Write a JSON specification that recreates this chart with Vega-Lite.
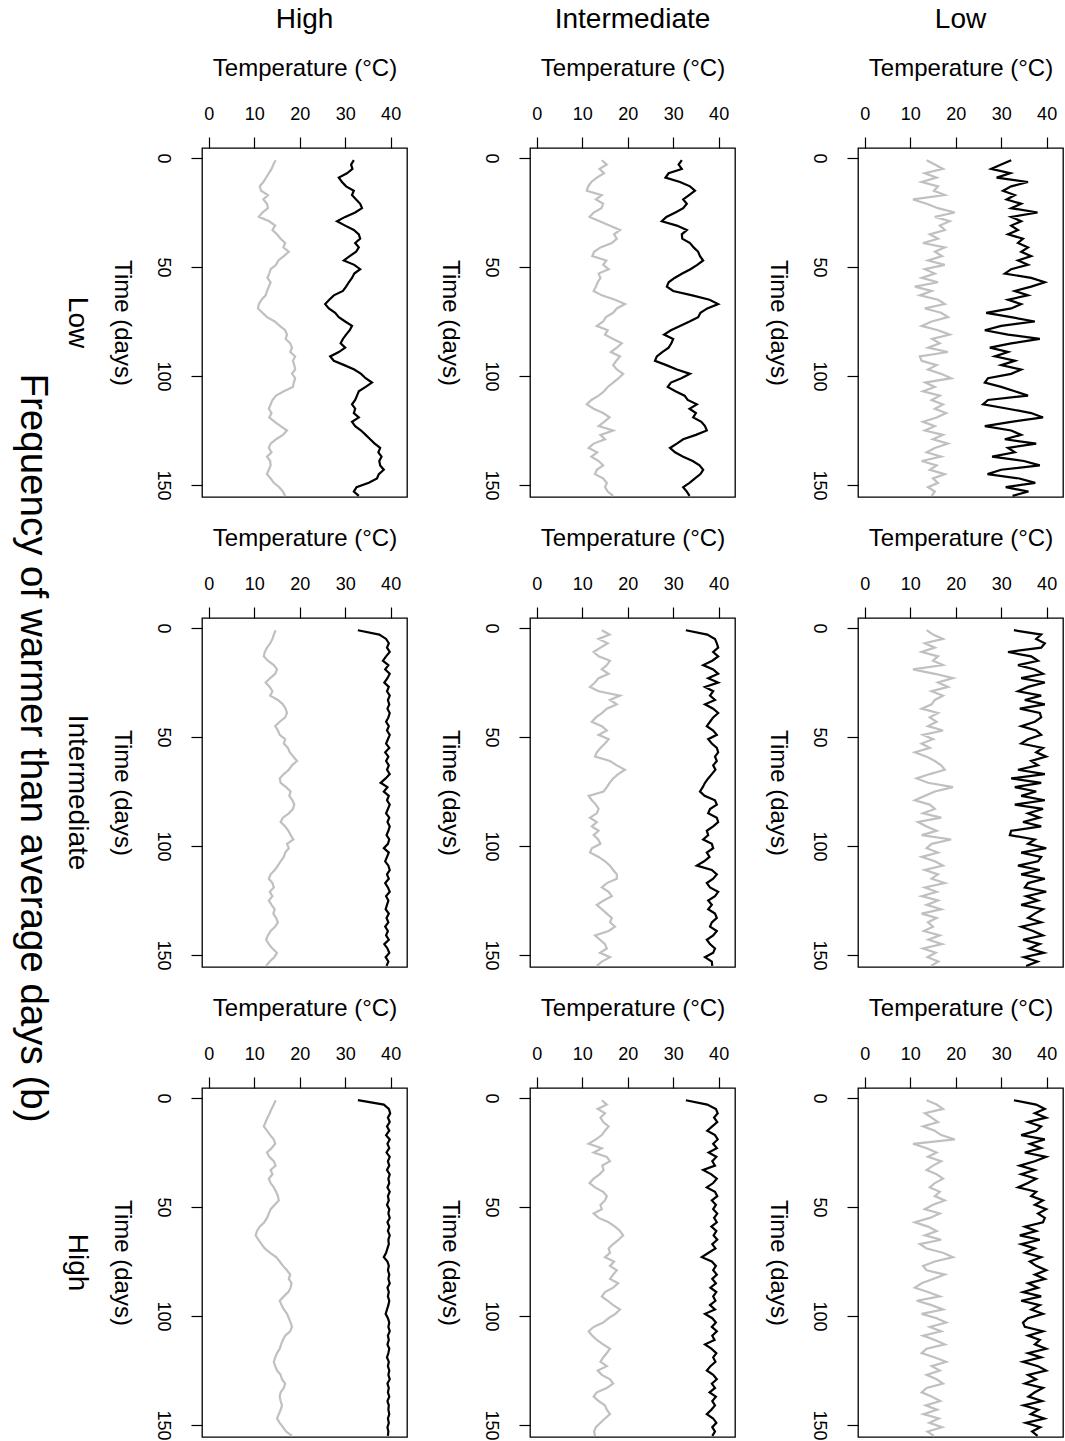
{
"$schema":"https://vega.github.io/schema/vega-lite/v6.json",
"background":"white",
"padding":{"left":12,"top":6,"right":1,"bottom":3},
"config":{
"font":"Liberation Sans",
"view":{"stroke":"#000","strokeWidth":1.3},
"axis":{"domain":false,"grid":false,"tickColor":"#000","tickWidth":1.2,"labelColor":"#000","titleColor":"#000","titleFontWeight":"normal","labelFont":"Liberation Sans","titleFont":"Liberation Sans"},
"header":{"labelColor":"#000","titleColor":"#000","labelFont":"Liberation Sans","titleFont":"Liberation Sans"}
},
"data":{"values":[
{"c":"H","r":"L","t":1,"g":14.7,"k":31.9},{"c":"H","r":"L","t":3,"g":14.2,"k":31.3},{"c":"H","r":"L","t":5,"g":13.8,"k":31.6},{"c":"H","r":"L","t":7,"g":13.2,"k":30.4},{"c":"H","r":"L","t":9,"g":12.6,"k":28.6},{"c":"H","r":"L","t":11,"g":12.0,"k":29.3},{"c":"H","r":"L","t":13,"g":11.2,"k":30.2},{"c":"H","r":"L","t":15,"g":11.5,"k":31.9},{"c":"H","r":"L","t":17,"g":13.0,"k":31.5},{"c":"H","r":"L","t":19,"g":12.0,"k":32.4},
{"c":"H","r":"L","t":21,"g":12.8,"k":33.3},{"c":"H","r":"L","t":23,"g":13.0,"k":33.7},{"c":"H","r":"L","t":25,"g":11.8,"k":32.2},{"c":"H","r":"L","t":27,"g":11.0,"k":30.0},{"c":"H","r":"L","t":29,"g":13.3,"k":28.2},{"c":"H","r":"L","t":31,"g":14.6,"k":30.0},{"c":"H","r":"L","t":33,"g":14.0,"k":31.9},{"c":"H","r":"L","t":35,"g":15.0,"k":33.0},{"c":"H","r":"L","t":37,"g":15.8,"k":33.3},{"c":"H","r":"L","t":39,"g":16.8,"k":32.2},
{"c":"H","r":"L","t":41,"g":16.4,"k":33.0},{"c":"H","r":"L","t":43,"g":17.6,"k":32.4},{"c":"H","r":"L","t":45,"g":16.5,"k":31.0},{"c":"H","r":"L","t":47,"g":15.3,"k":29.7},{"c":"H","r":"L","t":49,"g":14.8,"k":32.0},{"c":"H","r":"L","t":51,"g":13.6,"k":33.3},{"c":"H","r":"L","t":53,"g":13.3,"k":32.0},{"c":"H","r":"L","t":55,"g":12.9,"k":31.5},{"c":"H","r":"L","t":57,"g":13.6,"k":30.8},{"c":"H","r":"L","t":59,"g":13.2,"k":30.2},
{"c":"H","r":"L","t":61,"g":12.8,"k":29.5},{"c":"H","r":"L","t":63,"g":12.5,"k":27.5},{"c":"H","r":"L","t":65,"g":11.6,"k":26.5},{"c":"H","r":"L","t":67,"g":11.0,"k":25.6},{"c":"H","r":"L","t":69,"g":10.8,"k":26.4},{"c":"H","r":"L","t":71,"g":11.8,"k":27.8},{"c":"H","r":"L","t":73,"g":12.8,"k":28.6},{"c":"H","r":"L","t":75,"g":14.5,"k":30.0},{"c":"H","r":"L","t":77,"g":15.6,"k":31.5},{"c":"H","r":"L","t":79,"g":16.8,"k":31.0},
{"c":"H","r":"L","t":81,"g":17.2,"k":30.2},{"c":"H","r":"L","t":83,"g":16.9,"k":29.5},{"c":"H","r":"L","t":85,"g":17.9,"k":29.0},{"c":"H","r":"L","t":87,"g":18.3,"k":30.0},{"c":"H","r":"L","t":89,"g":17.9,"k":28.6},{"c":"H","r":"L","t":91,"g":19.0,"k":26.7},{"c":"H","r":"L","t":93,"g":18.5,"k":27.5},{"c":"H","r":"L","t":95,"g":18.8,"k":29.8},{"c":"H","r":"L","t":97,"g":19.0,"k":32.0},{"c":"H","r":"L","t":99,"g":18.3,"k":33.5},
{"c":"H","r":"L","t":101,"g":19.0,"k":34.5},{"c":"H","r":"L","t":103,"g":18.7,"k":35.9},{"c":"H","r":"L","t":105,"g":18.5,"k":34.5},{"c":"H","r":"L","t":107,"g":16.5,"k":33.0},{"c":"H","r":"L","t":109,"g":14.8,"k":32.6},{"c":"H","r":"L","t":111,"g":14.0,"k":32.2},{"c":"H","r":"L","t":113,"g":13.6,"k":31.5},{"c":"H","r":"L","t":115,"g":13.2,"k":32.2},{"c":"H","r":"L","t":117,"g":13.8,"k":31.9},{"c":"H","r":"L","t":119,"g":13.3,"k":33.0},
{"c":"H","r":"L","t":121,"g":14.5,"k":31.5},{"c":"H","r":"L","t":123,"g":15.8,"k":32.2},{"c":"H","r":"L","t":125,"g":17.2,"k":33.5},{"c":"H","r":"L","t":127,"g":16.3,"k":34.5},{"c":"H","r":"L","t":129,"g":14.8,"k":35.5},{"c":"H","r":"L","t":131,"g":13.6,"k":36.5},{"c":"H","r":"L","t":133,"g":13.2,"k":37.7},{"c":"H","r":"L","t":135,"g":13.8,"k":37.3},{"c":"H","r":"L","t":137,"g":12.8,"k":38.0},{"c":"H","r":"L","t":139,"g":13.5,"k":37.5},
{"c":"H","r":"L","t":141,"g":13.6,"k":37.7},{"c":"H","r":"L","t":143,"g":13.2,"k":38.5},{"c":"H","r":"L","t":145,"g":12.8,"k":37.4},{"c":"H","r":"L","t":147,"g":13.6,"k":37.0},{"c":"H","r":"L","t":149,"g":14.3,"k":35.2},{"c":"H","r":"L","t":151,"g":15.5,"k":32.5},{"c":"H","r":"L","t":153,"g":16.3,"k":31.9},{"c":"H","r":"L","t":155,"g":16.8,"k":33.0},

{"c":"I","r":"L","t":1,"g":14.3,"k":31.9},{"c":"I","r":"L","t":3,"g":15.4,"k":31.2},{"c":"I","r":"L","t":5,"g":13.8,"k":31.9},{"c":"I","r":"L","t":7,"g":14.8,"k":29.0},{"c":"I","r":"L","t":9,"g":13.2,"k":28.3},{"c":"I","r":"L","t":11,"g":12.0,"k":31.5},{"c":"I","r":"L","t":13,"g":11.3,"k":33.7},{"c":"I","r":"L","t":15,"g":11.0,"k":34.8},{"c":"I","r":"L","t":17,"g":14.3,"k":33.5},{"c":"I","r":"L","t":19,"g":13.0,"k":32.2},
{"c":"I","r":"L","t":21,"g":14.6,"k":33.0},{"c":"I","r":"L","t":23,"g":14.2,"k":32.2},{"c":"I","r":"L","t":25,"g":12.5,"k":30.5},{"c":"I","r":"L","t":27,"g":11.6,"k":28.5},{"c":"I","r":"L","t":29,"g":13.8,"k":27.5},{"c":"I","r":"L","t":31,"g":16.0,"k":30.8},{"c":"I","r":"L","t":33,"g":18.3,"k":33.0},{"c":"I","r":"L","t":35,"g":17.0,"k":31.9},{"c":"I","r":"L","t":37,"g":17.6,"k":32.0},{"c":"I","r":"L","t":39,"g":16.5,"k":33.7},
{"c":"I","r":"L","t":41,"g":14.0,"k":34.5},{"c":"I","r":"L","t":43,"g":12.6,"k":35.5},{"c":"I","r":"L","t":45,"g":12.2,"k":35.9},{"c":"I","r":"L","t":47,"g":15.3,"k":36.6},{"c":"I","r":"L","t":49,"g":14.6,"k":35.3},{"c":"I","r":"L","t":51,"g":15.8,"k":33.8},{"c":"I","r":"L","t":53,"g":13.6,"k":32.0},{"c":"I","r":"L","t":55,"g":14.0,"k":30.3},{"c":"I","r":"L","t":57,"g":13.4,"k":29.0},{"c":"I","r":"L","t":59,"g":13.0,"k":28.6},
{"c":"I","r":"L","t":61,"g":12.5,"k":30.0},{"c":"I","r":"L","t":63,"g":14.3,"k":34.2},{"c":"I","r":"L","t":65,"g":17.2,"k":38.0},{"c":"I","r":"L","t":67,"g":19.4,"k":39.9},{"c":"I","r":"L","t":69,"g":17.6,"k":37.5},{"c":"I","r":"L","t":71,"g":16.8,"k":36.0},{"c":"I","r":"L","t":73,"g":15.2,"k":35.5},{"c":"I","r":"L","t":75,"g":14.6,"k":33.6},{"c":"I","r":"L","t":77,"g":13.2,"k":31.5},{"c":"I","r":"L","t":79,"g":15.6,"k":29.5},
{"c":"I","r":"L","t":81,"g":15.0,"k":28.0},{"c":"I","r":"L","t":83,"g":16.8,"k":30.0},{"c":"I","r":"L","t":85,"g":18.7,"k":29.6},{"c":"I","r":"L","t":87,"g":17.6,"k":29.0},{"c":"I","r":"L","t":89,"g":16.3,"k":27.6},{"c":"I","r":"L","t":91,"g":18.3,"k":26.4},{"c":"I","r":"L","t":93,"g":17.5,"k":26.0},{"c":"I","r":"L","t":95,"g":16.8,"k":28.5},{"c":"I","r":"L","t":97,"g":17.6,"k":30.8},{"c":"I","r":"L","t":99,"g":19.0,"k":33.7},
{"c":"I","r":"L","t":101,"g":18.0,"k":31.8},{"c":"I","r":"L","t":103,"g":16.8,"k":29.5},{"c":"I","r":"L","t":105,"g":15.6,"k":28.8},{"c":"I","r":"L","t":107,"g":14.8,"k":30.5},{"c":"I","r":"L","t":109,"g":13.6,"k":32.5},{"c":"I","r":"L","t":111,"g":12.0,"k":33.2},{"c":"I","r":"L","t":113,"g":11.0,"k":35.2},{"c":"I","r":"L","t":115,"g":12.5,"k":33.6},{"c":"I","r":"L","t":117,"g":14.6,"k":35.0},{"c":"I","r":"L","t":119,"g":16.0,"k":34.4},
{"c":"I","r":"L","t":121,"g":14.8,"k":36.2},{"c":"I","r":"L","t":123,"g":13.6,"k":37.0},{"c":"I","r":"L","t":125,"g":16.8,"k":37.4},{"c":"I","r":"L","t":127,"g":14.0,"k":35.0},{"c":"I","r":"L","t":129,"g":15.0,"k":32.2},{"c":"I","r":"L","t":131,"g":12.5,"k":30.8},{"c":"I","r":"L","t":133,"g":11.4,"k":29.3},{"c":"I","r":"L","t":135,"g":13.3,"k":30.4},{"c":"I","r":"L","t":137,"g":12.0,"k":32.2},{"c":"I","r":"L","t":139,"g":13.6,"k":34.3},
{"c":"I","r":"L","t":141,"g":14.6,"k":35.8},{"c":"I","r":"L","t":143,"g":13.2,"k":36.6},{"c":"I","r":"L","t":145,"g":12.8,"k":36.0},{"c":"I","r":"L","t":147,"g":14.6,"k":34.8},{"c":"I","r":"L","t":149,"g":15.4,"k":33.6},{"c":"I","r":"L","t":151,"g":15.0,"k":32.2},{"c":"I","r":"L","t":153,"g":15.6,"k":33.0},{"c":"I","r":"L","t":155,"g":16.8,"k":33.6},

{"c":"L","r":"L","t":1,"g":13.6,"k":32.2},{"c":"L","r":"L","t":3,"g":15.4,"k":30.0},{"c":"L","r":"L","t":5,"g":17.2,"k":27.8},{"c":"L","r":"L","t":7,"g":13.2,"k":32.0},{"c":"L","r":"L","t":9,"g":15.8,"k":29.0},{"c":"L","r":"L","t":11,"g":12.5,"k":35.9},{"c":"L","r":"L","t":13,"g":16.1,"k":32.2},{"c":"L","r":"L","t":15,"g":15.2,"k":30.4},{"c":"L","r":"L","t":17,"g":17.6,"k":33.0},{"c":"L","r":"L","t":19,"g":10.6,"k":31.2},
{"c":"L","r":"L","t":21,"g":13.6,"k":34.4},{"c":"L","r":"L","t":23,"g":16.1,"k":32.2},{"c":"L","r":"L","t":25,"g":19.8,"k":38.0},{"c":"L","r":"L","t":27,"g":15.4,"k":32.2},{"c":"L","r":"L","t":29,"g":18.7,"k":34.4},{"c":"L","r":"L","t":31,"g":16.5,"k":32.2},{"c":"L","r":"L","t":33,"g":17.6,"k":33.7},{"c":"L","r":"L","t":35,"g":14.3,"k":31.5},{"c":"L","r":"L","t":37,"g":16.1,"k":34.8},{"c":"L","r":"L","t":39,"g":12.8,"k":33.7},
{"c":"L","r":"L","t":41,"g":17.6,"k":35.9},{"c":"L","r":"L","t":43,"g":15.4,"k":34.4},{"c":"L","r":"L","t":45,"g":17.0,"k":36.6},{"c":"L","r":"L","t":47,"g":13.9,"k":33.7},{"c":"L","r":"L","t":49,"g":17.6,"k":35.9},{"c":"L","r":"L","t":51,"g":13.2,"k":32.2},{"c":"L","r":"L","t":53,"g":15.4,"k":30.8},{"c":"L","r":"L","t":55,"g":12.5,"k":36.6},{"c":"L","r":"L","t":57,"g":16.1,"k":39.6},{"c":"L","r":"L","t":59,"g":11.0,"k":36.6},
{"c":"L","r":"L","t":61,"g":14.7,"k":33.0},{"c":"L","r":"L","t":63,"g":12.1,"k":35.9},{"c":"L","r":"L","t":65,"g":16.1,"k":31.5},{"c":"L","r":"L","t":67,"g":17.6,"k":34.4},{"c":"L","r":"L","t":69,"g":13.2,"k":32.2},{"c":"L","r":"L","t":71,"g":16.8,"k":26.7},{"c":"L","r":"L","t":73,"g":18.3,"k":32.2},{"c":"L","r":"L","t":75,"g":14.7,"k":37.4},{"c":"L","r":"L","t":77,"g":12.5,"k":30.0},{"c":"L","r":"L","t":79,"g":16.1,"k":26.4},
{"c":"L","r":"L","t":81,"g":18.7,"k":31.5},{"c":"L","r":"L","t":83,"g":14.8,"k":38.5},{"c":"L","r":"L","t":85,"g":16.5,"k":32.2},{"c":"L","r":"L","t":87,"g":13.9,"k":27.5},{"c":"L","r":"L","t":89,"g":18.3,"k":31.5},{"c":"L","r":"L","t":91,"g":12.1,"k":28.6},{"c":"L","r":"L","t":93,"g":12.5,"k":33.0},{"c":"L","r":"L","t":95,"g":15.8,"k":30.0},{"c":"L","r":"L","t":97,"g":13.9,"k":34.4},{"c":"L","r":"L","t":99,"g":16.8,"k":32.2},
{"c":"L","r":"L","t":101,"g":19.0,"k":27.1},{"c":"L","r":"L","t":103,"g":13.3,"k":26.4},{"c":"L","r":"L","t":105,"g":15.4,"k":30.0},{"c":"L","r":"L","t":107,"g":12.8,"k":33.0},{"c":"L","r":"L","t":109,"g":16.5,"k":35.9},{"c":"L","r":"L","t":111,"g":14.7,"k":27.1},{"c":"L","r":"L","t":113,"g":17.2,"k":26.0},{"c":"L","r":"L","t":115,"g":15.4,"k":31.5},{"c":"L","r":"L","t":117,"g":17.9,"k":36.6},{"c":"L","r":"L","t":119,"g":15.8,"k":39.2},
{"c":"L","r":"L","t":121,"g":12.8,"k":32.2},{"c":"L","r":"L","t":123,"g":15.4,"k":26.4},{"c":"L","r":"L","t":125,"g":13.2,"k":32.2},{"c":"L","r":"L","t":127,"g":17.2,"k":34.4},{"c":"L","r":"L","t":129,"g":15.0,"k":30.8},{"c":"L","r":"L","t":131,"g":18.3,"k":37.7},{"c":"L","r":"L","t":133,"g":15.4,"k":31.5},{"c":"L","r":"L","t":135,"g":13.6,"k":33.0},{"c":"L","r":"L","t":137,"g":16.8,"k":28.0},{"c":"L","r":"L","t":139,"g":12.5,"k":35.0},
{"c":"L","r":"L","t":141,"g":15.8,"k":38.5},{"c":"L","r":"L","t":143,"g":14.3,"k":30.0},{"c":"L","r":"L","t":145,"g":17.6,"k":27.0},{"c":"L","r":"L","t":147,"g":15.0,"k":34.0},{"c":"L","r":"L","t":149,"g":16.1,"k":37.5},{"c":"L","r":"L","t":151,"g":13.9,"k":31.0},{"c":"L","r":"L","t":153,"g":15.4,"k":36.0},{"c":"L","r":"L","t":155,"g":14.7,"k":32.5},

{"c":"H","r":"I","t":1,"g":14.7,"k":32.8},{"c":"H","r":"I","t":3,"g":14.3,"k":37.5},{"c":"H","r":"I","t":5,"g":14.0,"k":39.0},{"c":"H","r":"I","t":7,"g":13.5,"k":39.6},{"c":"H","r":"I","t":9,"g":12.8,"k":39.2},{"c":"H","r":"I","t":11,"g":12.3,"k":39.8},{"c":"H","r":"I","t":13,"g":12.1,"k":39.0},{"c":"H","r":"I","t":15,"g":13.0,"k":38.3},{"c":"H","r":"I","t":17,"g":14.3,"k":39.5},{"c":"H","r":"I","t":19,"g":15.0,"k":38.8},
{"c":"H","r":"I","t":21,"g":14.6,"k":39.8},{"c":"H","r":"I","t":23,"g":13.5,"k":39.3},{"c":"H","r":"I","t":25,"g":12.5,"k":38.6},{"c":"H","r":"I","t":27,"g":13.4,"k":39.6},{"c":"H","r":"I","t":29,"g":14.0,"k":39.2},{"c":"H","r":"I","t":31,"g":13.5,"k":39.8},{"c":"H","r":"I","t":33,"g":15.2,"k":39.4},{"c":"H","r":"I","t":35,"g":16.3,"k":39.7},{"c":"H","r":"I","t":37,"g":16.9,"k":39.3},{"c":"H","r":"I","t":39,"g":17.2,"k":39.8},
{"c":"H","r":"I","t":41,"g":16.8,"k":39.5},{"c":"H","r":"I","t":43,"g":15.6,"k":39.0},{"c":"H","r":"I","t":45,"g":14.6,"k":39.6},{"c":"H","r":"I","t":47,"g":15.2,"k":39.2},{"c":"H","r":"I","t":49,"g":15.6,"k":39.8},{"c":"H","r":"I","t":51,"g":16.8,"k":39.4},{"c":"H","r":"I","t":53,"g":16.5,"k":39.0},{"c":"H","r":"I","t":55,"g":17.4,"k":39.7},{"c":"H","r":"I","t":57,"g":17.8,"k":38.8},{"c":"H","r":"I","t":59,"g":18.6,"k":39.5},
{"c":"H","r":"I","t":61,"g":19.4,"k":39.0},{"c":"H","r":"I","t":63,"g":18.3,"k":39.6},{"c":"H","r":"I","t":65,"g":17.6,"k":39.2},{"c":"H","r":"I","t":67,"g":16.5,"k":39.8},{"c":"H","r":"I","t":69,"g":15.6,"k":38.9},{"c":"H","r":"I","t":71,"g":15.8,"k":37.8},{"c":"H","r":"I","t":73,"g":17.0,"k":39.3},{"c":"H","r":"I","t":75,"g":18.0,"k":38.5},{"c":"H","r":"I","t":77,"g":17.7,"k":39.6},{"c":"H","r":"I","t":79,"g":18.4,"k":39.2},
{"c":"H","r":"I","t":81,"g":18.8,"k":39.8},{"c":"H","r":"I","t":83,"g":18.5,"k":39.4},{"c":"H","r":"I","t":85,"g":17.6,"k":39.0},{"c":"H","r":"I","t":87,"g":16.3,"k":39.7},{"c":"H","r":"I","t":89,"g":15.8,"k":39.3},{"c":"H","r":"I","t":91,"g":16.8,"k":39.8},{"c":"H","r":"I","t":93,"g":17.5,"k":39.5},{"c":"H","r":"I","t":95,"g":18.0,"k":39.1},{"c":"H","r":"I","t":97,"g":18.6,"k":39.7},{"c":"H","r":"I","t":99,"g":17.2,"k":39.4},
{"c":"H","r":"I","t":101,"g":17.6,"k":38.5},{"c":"H","r":"I","t":103,"g":16.8,"k":39.6},{"c":"H","r":"I","t":105,"g":16.5,"k":39.2},{"c":"H","r":"I","t":107,"g":15.8,"k":38.8},{"c":"H","r":"I","t":109,"g":15.2,"k":39.5},{"c":"H","r":"I","t":111,"g":14.5,"k":39.8},{"c":"H","r":"I","t":113,"g":13.6,"k":39.2},{"c":"H","r":"I","t":115,"g":13.2,"k":39.6},{"c":"H","r":"I","t":117,"g":14.0,"k":38.8},{"c":"H","r":"I","t":119,"g":14.3,"k":39.4},
{"c":"H","r":"I","t":121,"g":13.4,"k":39.8},{"c":"H","r":"I","t":123,"g":14.0,"k":39.0},{"c":"H","r":"I","t":125,"g":13.2,"k":39.5},{"c":"H","r":"I","t":127,"g":13.8,"k":39.2},{"c":"H","r":"I","t":129,"g":14.5,"k":38.9},{"c":"H","r":"I","t":131,"g":14.2,"k":39.6},{"c":"H","r":"I","t":133,"g":14.8,"k":39.1},{"c":"H","r":"I","t":135,"g":15.2,"k":39.5},{"c":"H","r":"I","t":137,"g":14.6,"k":38.8},{"c":"H","r":"I","t":139,"g":13.6,"k":39.4},
{"c":"H","r":"I","t":141,"g":13.0,"k":39.0},{"c":"H","r":"I","t":143,"g":12.6,"k":39.6},{"c":"H","r":"I","t":145,"g":13.2,"k":38.6},{"c":"H","r":"I","t":147,"g":14.0,"k":39.3},{"c":"H","r":"I","t":149,"g":15.0,"k":39.7},{"c":"H","r":"I","t":151,"g":14.4,"k":38.9},{"c":"H","r":"I","t":153,"g":13.4,"k":39.5},{"c":"H","r":"I","t":155,"g":12.6,"k":39.1},

{"c":"I","r":"I","t":1,"g":14.3,"k":32.8},{"c":"I","r":"I","t":3,"g":16.0,"k":37.5},{"c":"I","r":"I","t":5,"g":13.6,"k":39.2},{"c":"I","r":"I","t":7,"g":15.6,"k":39.6},{"c":"I","r":"I","t":9,"g":14.0,"k":39.9},{"c":"I","r":"I","t":11,"g":12.5,"k":38.8},{"c":"I","r":"I","t":13,"g":13.6,"k":39.9},{"c":"I","r":"I","t":15,"g":16.1,"k":38.6},{"c":"I","r":"I","t":17,"g":15.4,"k":36.6},{"c":"I","r":"I","t":19,"g":14.3,"k":38.8},
{"c":"I","r":"I","t":21,"g":15.8,"k":39.9},{"c":"I","r":"I","t":23,"g":13.6,"k":37.7},{"c":"I","r":"I","t":25,"g":12.8,"k":39.9},{"c":"I","r":"I","t":27,"g":11.7,"k":37.0},{"c":"I","r":"I","t":29,"g":13.6,"k":38.8},{"c":"I","r":"I","t":31,"g":18.3,"k":38.1},{"c":"I","r":"I","t":33,"g":16.1,"k":39.2},{"c":"I","r":"I","t":35,"g":17.6,"k":37.0},{"c":"I","r":"I","t":37,"g":15.4,"k":38.8},{"c":"I","r":"I","t":39,"g":14.3,"k":39.9},
{"c":"I","r":"I","t":41,"g":13.0,"k":38.8},{"c":"I","r":"I","t":43,"g":12.1,"k":38.1},{"c":"I","r":"I","t":45,"g":14.3,"k":37.4},{"c":"I","r":"I","t":47,"g":15.4,"k":38.8},{"c":"I","r":"I","t":49,"g":13.6,"k":39.6},{"c":"I","r":"I","t":51,"g":15.8,"k":37.7},{"c":"I","r":"I","t":53,"g":15.0,"k":38.5},{"c":"I","r":"I","t":55,"g":14.0,"k":39.6},{"c":"I","r":"I","t":57,"g":13.2,"k":39.9},{"c":"I","r":"I","t":59,"g":12.8,"k":39.2},
{"c":"I","r":"I","t":61,"g":16.1,"k":39.6},{"c":"I","r":"I","t":63,"g":17.6,"k":38.8},{"c":"I","r":"I","t":65,"g":19.4,"k":39.3},{"c":"I","r":"I","t":67,"g":17.9,"k":38.5},{"c":"I","r":"I","t":69,"g":16.8,"k":37.7},{"c":"I","r":"I","t":71,"g":16.0,"k":37.0},{"c":"I","r":"I","t":73,"g":15.4,"k":36.5},{"c":"I","r":"I","t":75,"g":14.7,"k":35.9},{"c":"I","r":"I","t":77,"g":11.4,"k":36.9},{"c":"I","r":"I","t":79,"g":12.1,"k":39.2},
{"c":"I","r":"I","t":81,"g":13.0,"k":39.6},{"c":"I","r":"I","t":83,"g":13.6,"k":38.1},{"c":"I","r":"I","t":85,"g":13.2,"k":37.7},{"c":"I","r":"I","t":87,"g":11.7,"k":39.6},{"c":"I","r":"I","t":89,"g":13.2,"k":39.9},{"c":"I","r":"I","t":91,"g":12.1,"k":38.8},{"c":"I","r":"I","t":93,"g":13.6,"k":37.4},{"c":"I","r":"I","t":95,"g":12.5,"k":37.7},{"c":"I","r":"I","t":97,"g":13.5,"k":36.6},{"c":"I","r":"I","t":99,"g":14.0,"k":38.5},
{"c":"I","r":"I","t":101,"g":12.1,"k":38.8},{"c":"I","r":"I","t":103,"g":11.7,"k":37.4},{"c":"I","r":"I","t":105,"g":13.6,"k":38.0},{"c":"I","r":"I","t":107,"g":15.0,"k":36.8},{"c":"I","r":"I","t":109,"g":16.1,"k":35.2},{"c":"I","r":"I","t":111,"g":16.8,"k":38.5},{"c":"I","r":"I","t":113,"g":17.6,"k":39.6},{"c":"I","r":"I","t":115,"g":17.6,"k":38.8},{"c":"I","r":"I","t":117,"g":15.4,"k":37.4},{"c":"I","r":"I","t":119,"g":14.3,"k":38.1},
{"c":"I","r":"I","t":121,"g":15.8,"k":39.9},{"c":"I","r":"I","t":123,"g":16.5,"k":39.2},{"c":"I","r":"I","t":125,"g":14.7,"k":37.7},{"c":"I","r":"I","t":127,"g":13.2,"k":38.5},{"c":"I","r":"I","t":129,"g":14.3,"k":37.7},{"c":"I","r":"I","t":131,"g":15.4,"k":39.2},{"c":"I","r":"I","t":133,"g":16.5,"k":39.6},{"c":"I","r":"I","t":135,"g":16.1,"k":38.5},{"c":"I","r":"I","t":137,"g":17.2,"k":38.1},{"c":"I","r":"I","t":139,"g":15.8,"k":39.6},
{"c":"I","r":"I","t":141,"g":12.8,"k":38.8},{"c":"I","r":"I","t":143,"g":13.9,"k":37.4},{"c":"I","r":"I","t":145,"g":15.0,"k":38.1},{"c":"I","r":"I","t":147,"g":15.4,"k":39.2},{"c":"I","r":"I","t":149,"g":13.9,"k":38.8},{"c":"I","r":"I","t":151,"g":16.1,"k":37.0},{"c":"I","r":"I","t":153,"g":14.3,"k":38.5},{"c":"I","r":"I","t":155,"g":13.2,"k":38.6},

{"c":"L","r":"I","t":1,"g":13.6,"k":32.8},{"c":"L","r":"I","t":3,"g":15.0,"k":38.8},{"c":"L","r":"I","t":5,"g":17.2,"k":37.7},{"c":"L","r":"I","t":7,"g":13.2,"k":39.6},{"c":"L","r":"I","t":9,"g":15.4,"k":38.8},{"c":"L","r":"I","t":11,"g":12.5,"k":31.5},{"c":"L","r":"I","t":13,"g":16.1,"k":36.6},{"c":"L","r":"I","t":15,"g":15.0,"k":38.1},{"c":"L","r":"I","t":17,"g":17.2,"k":33.7},{"c":"L","r":"I","t":19,"g":10.6,"k":37.4},
{"c":"L","r":"I","t":21,"g":15.4,"k":39.2},{"c":"L","r":"I","t":23,"g":19.4,"k":34.4},{"c":"L","r":"I","t":25,"g":16.1,"k":39.6},{"c":"L","r":"I","t":27,"g":18.3,"k":35.9},{"c":"L","r":"I","t":29,"g":14.7,"k":33.7},{"c":"L","r":"I","t":31,"g":17.2,"k":38.8},{"c":"L","r":"I","t":33,"g":15.4,"k":35.2},{"c":"L","r":"I","t":35,"g":14.7,"k":39.6},{"c":"L","r":"I","t":37,"g":12.5,"k":34.1},{"c":"L","r":"I","t":39,"g":16.1,"k":38.5},
{"c":"L","r":"I","t":41,"g":14.3,"k":38.8},{"c":"L","r":"I","t":43,"g":15.8,"k":37.4},{"c":"L","r":"I","t":45,"g":13.9,"k":34.4},{"c":"L","r":"I","t":47,"g":17.2,"k":37.7},{"c":"L","r":"I","t":49,"g":12.8,"k":38.8},{"c":"L","r":"I","t":51,"g":15.0,"k":35.9},{"c":"L","r":"I","t":53,"g":12.5,"k":34.4},{"c":"L","r":"I","t":55,"g":14.3,"k":39.2},{"c":"L","r":"I","t":57,"g":11.0,"k":37.7},{"c":"L","r":"I","t":59,"g":13.6,"k":39.9},
{"c":"L","r":"I","t":61,"g":15.4,"k":36.6},{"c":"L","r":"I","t":63,"g":16.8,"k":38.1},{"c":"L","r":"I","t":65,"g":17.6,"k":33.7},{"c":"L","r":"I","t":67,"g":14.3,"k":39.6},{"c":"L","r":"I","t":69,"g":11.4,"k":32.2},{"c":"L","r":"I","t":71,"g":13.9,"k":38.8},{"c":"L","r":"I","t":73,"g":19.4,"k":33.0},{"c":"L","r":"I","t":75,"g":15.4,"k":37.7},{"c":"L","r":"I","t":77,"g":13.2,"k":34.4},{"c":"L","r":"I","t":79,"g":11.0,"k":39.6},
{"c":"L","r":"I","t":81,"g":14.3,"k":33.0},{"c":"L","r":"I","t":83,"g":15.4,"k":39.2},{"c":"L","r":"I","t":85,"g":12.8,"k":35.9},{"c":"L","r":"I","t":87,"g":16.8,"k":38.5},{"c":"L","r":"I","t":89,"g":11.7,"k":34.8},{"c":"L","r":"I","t":91,"g":13.6,"k":38.8},{"c":"L","r":"I","t":93,"g":15.8,"k":32.2},{"c":"L","r":"I","t":95,"g":12.5,"k":31.9},{"c":"L","r":"I","t":97,"g":19.0,"k":37.4},{"c":"L","r":"I","t":99,"g":14.7,"k":35.9},
{"c":"L","r":"I","t":101,"g":13.6,"k":39.9},{"c":"L","r":"I","t":103,"g":16.1,"k":34.4},{"c":"L","r":"I","t":105,"g":12.5,"k":38.8},{"c":"L","r":"I","t":107,"g":15.4,"k":38.1},{"c":"L","r":"I","t":109,"g":17.2,"k":33.7},{"c":"L","r":"I","t":111,"g":13.2,"k":38.5},{"c":"L","r":"I","t":113,"g":16.1,"k":34.4},{"c":"L","r":"I","t":115,"g":14.7,"k":39.6},{"c":"L","r":"I","t":117,"g":17.6,"k":35.9},{"c":"L","r":"I","t":119,"g":13.2,"k":35.2},
{"c":"L","r":"I","t":121,"g":15.8,"k":39.9},{"c":"L","r":"I","t":123,"g":12.5,"k":35.5},{"c":"L","r":"I","t":125,"g":16.1,"k":38.1},{"c":"L","r":"I","t":127,"g":13.6,"k":34.4},{"c":"L","r":"I","t":129,"g":16.8,"k":39.2},{"c":"L","r":"I","t":131,"g":12.5,"k":37.4},{"c":"L","r":"I","t":133,"g":15.8,"k":35.9},{"c":"L","r":"I","t":135,"g":13.9,"k":38.8},{"c":"L","r":"I","t":137,"g":15.0,"k":34.4},{"c":"L","r":"I","t":139,"g":13.0,"k":37.0},
{"c":"L","r":"I","t":141,"g":16.5,"k":39.2},{"c":"L","r":"I","t":143,"g":14.0,"k":34.8},{"c":"L","r":"I","t":145,"g":17.0,"k":38.5},{"c":"L","r":"I","t":147,"g":12.8,"k":36.2},{"c":"L","r":"I","t":149,"g":15.6,"k":39.4},{"c":"L","r":"I","t":151,"g":13.8,"k":35.0},{"c":"L","r":"I","t":153,"g":16.2,"k":38.0},{"c":"L","r":"I","t":155,"g":14.6,"k":35.5},

{"c":"H","r":"H","t":1,"g":14.7,"k":32.8},{"c":"H","r":"H","t":3,"g":14.3,"k":38.5},{"c":"H","r":"H","t":5,"g":13.8,"k":39.6},{"c":"H","r":"H","t":7,"g":13.4,"k":39.9},{"c":"H","r":"H","t":9,"g":12.9,"k":39.4},{"c":"H","r":"H","t":11,"g":12.5,"k":39.8},{"c":"H","r":"H","t":13,"g":12.1,"k":39.2},{"c":"H","r":"H","t":15,"g":12.8,"k":39.7},{"c":"H","r":"H","t":17,"g":13.5,"k":39.0},{"c":"H","r":"H","t":19,"g":14.3,"k":39.8},
{"c":"H","r":"H","t":21,"g":14.6,"k":39.3},{"c":"H","r":"H","t":23,"g":13.8,"k":39.7},{"c":"H","r":"H","t":25,"g":12.8,"k":39.1},{"c":"H","r":"H","t":27,"g":13.3,"k":39.8},{"c":"H","r":"H","t":29,"g":14.3,"k":39.4},{"c":"H","r":"H","t":31,"g":14.7,"k":39.7},{"c":"H","r":"H","t":33,"g":13.6,"k":39.2},{"c":"H","r":"H","t":35,"g":14.0,"k":39.8},{"c":"H","r":"H","t":37,"g":13.2,"k":39.5},{"c":"H","r":"H","t":39,"g":13.6,"k":39.7},
{"c":"H","r":"H","t":41,"g":14.3,"k":39.3},{"c":"H","r":"H","t":43,"g":14.8,"k":39.8},{"c":"H","r":"H","t":45,"g":15.2,"k":39.4},{"c":"H","r":"H","t":47,"g":15.4,"k":39.6},{"c":"H","r":"H","t":49,"g":14.5,"k":39.2},{"c":"H","r":"H","t":51,"g":13.6,"k":39.7},{"c":"H","r":"H","t":53,"g":13.2,"k":39.5},{"c":"H","r":"H","t":55,"g":12.8,"k":39.8},{"c":"H","r":"H","t":57,"g":12.2,"k":39.3},{"c":"H","r":"H","t":59,"g":11.2,"k":39.7},
{"c":"H","r":"H","t":61,"g":10.6,"k":39.4},{"c":"H","r":"H","t":63,"g":10.3,"k":39.8},{"c":"H","r":"H","t":65,"g":10.9,"k":39.5},{"c":"H","r":"H","t":67,"g":11.6,"k":39.6},{"c":"H","r":"H","t":69,"g":12.3,"k":39.3},{"c":"H","r":"H","t":71,"g":13.5,"k":39.0},{"c":"H","r":"H","t":73,"g":14.8,"k":38.5},{"c":"H","r":"H","t":75,"g":15.6,"k":39.3},{"c":"H","r":"H","t":77,"g":16.3,"k":39.6},{"c":"H","r":"H","t":79,"g":17.2,"k":39.4},
{"c":"H","r":"H","t":81,"g":17.9,"k":39.7},{"c":"H","r":"H","t":83,"g":17.6,"k":39.5},{"c":"H","r":"H","t":85,"g":18.2,"k":39.8},{"c":"H","r":"H","t":87,"g":18.0,"k":39.3},{"c":"H","r":"H","t":89,"g":17.5,"k":39.6},{"c":"H","r":"H","t":91,"g":16.5,"k":39.4},{"c":"H","r":"H","t":93,"g":15.6,"k":39.7},{"c":"H","r":"H","t":95,"g":16.0,"k":39.5},{"c":"H","r":"H","t":97,"g":16.5,"k":39.2},{"c":"H","r":"H","t":99,"g":17.2,"k":38.9},
{"c":"H","r":"H","t":101,"g":17.6,"k":39.4},{"c":"H","r":"H","t":103,"g":18.0,"k":39.7},{"c":"H","r":"H","t":105,"g":18.3,"k":39.5},{"c":"H","r":"H","t":107,"g":17.9,"k":39.8},{"c":"H","r":"H","t":109,"g":16.8,"k":39.4},{"c":"H","r":"H","t":111,"g":16.3,"k":39.6},{"c":"H","r":"H","t":113,"g":15.9,"k":39.3},{"c":"H","r":"H","t":115,"g":15.6,"k":39.7},{"c":"H","r":"H","t":117,"g":15.0,"k":39.5},{"c":"H","r":"H","t":119,"g":14.6,"k":39.2},
{"c":"H","r":"H","t":121,"g":14.3,"k":39.6},{"c":"H","r":"H","t":123,"g":14.6,"k":39.4},{"c":"H","r":"H","t":125,"g":15.0,"k":39.7},{"c":"H","r":"H","t":127,"g":15.8,"k":39.5},{"c":"H","r":"H","t":129,"g":16.1,"k":39.8},{"c":"H","r":"H","t":131,"g":16.8,"k":39.3},{"c":"H","r":"H","t":133,"g":16.5,"k":39.6},{"c":"H","r":"H","t":135,"g":15.8,"k":39.4},{"c":"H","r":"H","t":137,"g":15.6,"k":39.7},{"c":"H","r":"H","t":139,"g":15.8,"k":39.3},
{"c":"H","r":"H","t":141,"g":16.1,"k":39.6},{"c":"H","r":"H","t":143,"g":15.8,"k":39.5},{"c":"H","r":"H","t":145,"g":15.4,"k":39.7},{"c":"H","r":"H","t":147,"g":15.0,"k":39.4},{"c":"H","r":"H","t":149,"g":15.6,"k":39.6},{"c":"H","r":"H","t":151,"g":16.3,"k":39.3},{"c":"H","r":"H","t":153,"g":17.0,"k":39.5},{"c":"H","r":"H","t":155,"g":18.3,"k":39.4},

{"c":"I","r":"H","t":1,"g":14.3,"k":32.8},{"c":"I","r":"H","t":3,"g":15.4,"k":37.5},{"c":"I","r":"H","t":5,"g":13.4,"k":39.4},{"c":"I","r":"H","t":7,"g":15.0,"k":39.8},{"c":"I","r":"H","t":9,"g":14.0,"k":39.0},{"c":"I","r":"H","t":11,"g":14.6,"k":39.7},{"c":"I","r":"H","t":13,"g":15.8,"k":38.6},{"c":"I","r":"H","t":15,"g":15.0,"k":37.5},{"c":"I","r":"H","t":17,"g":14.3,"k":39.2},{"c":"I","r":"H","t":19,"g":13.0,"k":39.8},
{"c":"I","r":"H","t":21,"g":11.4,"k":38.8},{"c":"I","r":"H","t":23,"g":14.3,"k":39.6},{"c":"I","r":"H","t":25,"g":12.5,"k":37.8},{"c":"I","r":"H","t":27,"g":15.4,"k":39.5},{"c":"I","r":"H","t":29,"g":16.1,"k":38.6},{"c":"I","r":"H","t":31,"g":14.4,"k":39.2},{"c":"I","r":"H","t":33,"g":14.7,"k":36.6},{"c":"I","r":"H","t":35,"g":13.8,"k":38.4},{"c":"I","r":"H","t":37,"g":12.5,"k":39.6},{"c":"I","r":"H","t":39,"g":11.6,"k":38.8},
{"c":"I","r":"H","t":41,"g":12.8,"k":37.4},{"c":"I","r":"H","t":43,"g":14.6,"k":39.2},{"c":"I","r":"H","t":45,"g":15.4,"k":39.7},{"c":"I","r":"H","t":47,"g":15.0,"k":38.5},{"c":"I","r":"H","t":49,"g":14.0,"k":39.4},{"c":"I","r":"H","t":51,"g":14.3,"k":38.8},{"c":"I","r":"H","t":53,"g":12.5,"k":39.7},{"c":"I","r":"H","t":55,"g":13.6,"k":39.0},{"c":"I","r":"H","t":57,"g":15.8,"k":39.6},{"c":"I","r":"H","t":59,"g":17.2,"k":38.4},
{"c":"I","r":"H","t":61,"g":18.3,"k":39.5},{"c":"I","r":"H","t":63,"g":19.0,"k":38.9},{"c":"I","r":"H","t":65,"g":18.0,"k":39.7},{"c":"I","r":"H","t":67,"g":16.8,"k":38.6},{"c":"I","r":"H","t":69,"g":15.8,"k":39.3},{"c":"I","r":"H","t":71,"g":16.1,"k":37.8},{"c":"I","r":"H","t":73,"g":15.0,"k":36.3},{"c":"I","r":"H","t":75,"g":17.0,"k":38.5},{"c":"I","r":"H","t":77,"g":16.1,"k":39.4},{"c":"I","r":"H","t":79,"g":17.6,"k":38.8},
{"c":"I","r":"H","t":81,"g":16.8,"k":39.6},{"c":"I","r":"H","t":83,"g":16.1,"k":38.6},{"c":"I","r":"H","t":85,"g":17.9,"k":39.4},{"c":"I","r":"H","t":87,"g":16.8,"k":38.2},{"c":"I","r":"H","t":89,"g":15.0,"k":39.5},{"c":"I","r":"H","t":91,"g":14.3,"k":38.8},{"c":"I","r":"H","t":93,"g":15.6,"k":39.3},{"c":"I","r":"H","t":95,"g":16.8,"k":38.1},{"c":"I","r":"H","t":97,"g":18.3,"k":39.2},{"c":"I","r":"H","t":99,"g":17.3,"k":37.0},
{"c":"I","r":"H","t":101,"g":15.8,"k":38.6},{"c":"I","r":"H","t":103,"g":14.6,"k":39.4},{"c":"I","r":"H","t":105,"g":12.5,"k":38.5},{"c":"I","r":"H","t":107,"g":11.4,"k":39.6},{"c":"I","r":"H","t":109,"g":12.2,"k":38.6},{"c":"I","r":"H","t":111,"g":13.2,"k":39.1},{"c":"I","r":"H","t":113,"g":14.6,"k":37.0},{"c":"I","r":"H","t":115,"g":16.1,"k":38.4},{"c":"I","r":"H","t":117,"g":15.4,"k":39.5},{"c":"I","r":"H","t":119,"g":14.6,"k":38.8},
{"c":"I","r":"H","t":121,"g":14.0,"k":39.3},{"c":"I","r":"H","t":123,"g":15.4,"k":38.2},{"c":"I","r":"H","t":125,"g":13.4,"k":37.4},{"c":"I","r":"H","t":127,"g":14.3,"k":38.8},{"c":"I","r":"H","t":129,"g":16.1,"k":39.6},{"c":"I","r":"H","t":131,"g":16.8,"k":38.5},{"c":"I","r":"H","t":133,"g":15.4,"k":39.2},{"c":"I","r":"H","t":135,"g":13.2,"k":38.0},{"c":"I","r":"H","t":137,"g":12.5,"k":39.4},{"c":"I","r":"H","t":139,"g":13.6,"k":38.6},
{"c":"I","r":"H","t":141,"g":15.0,"k":39.2},{"c":"I","r":"H","t":143,"g":15.4,"k":38.4},{"c":"I","r":"H","t":145,"g":16.1,"k":37.4},{"c":"I","r":"H","t":147,"g":15.0,"k":38.8},{"c":"I","r":"H","t":149,"g":14.0,"k":39.5},{"c":"I","r":"H","t":151,"g":13.0,"k":38.6},{"c":"I","r":"H","t":153,"g":12.6,"k":39.2},{"c":"I","r":"H","t":155,"g":12.8,"k":38.6},

{"c":"L","r":"H","t":1,"g":13.6,"k":32.8},{"c":"L","r":"H","t":3,"g":15.8,"k":37.7},{"c":"L","r":"H","t":5,"g":17.2,"k":39.6},{"c":"L","r":"H","t":7,"g":13.2,"k":37.4},{"c":"L","r":"H","t":9,"g":14.7,"k":39.9},{"c":"L","r":"H","t":11,"g":16.1,"k":35.9},{"c":"L","r":"H","t":13,"g":12.8,"k":38.8},{"c":"L","r":"H","t":15,"g":15.4,"k":37.7},{"c":"L","r":"H","t":17,"g":16.8,"k":34.4},{"c":"L","r":"H","t":19,"g":19.8,"k":39.6},
{"c":"L","r":"H","t":21,"g":10.6,"k":36.3},{"c":"L","r":"H","t":23,"g":13.6,"k":38.8},{"c":"L","r":"H","t":25,"g":15.8,"k":35.2},{"c":"L","r":"H","t":27,"g":13.9,"k":39.9},{"c":"L","r":"H","t":29,"g":16.8,"k":37.4},{"c":"L","r":"H","t":31,"g":15.0,"k":34.1},{"c":"L","r":"H","t":33,"g":13.6,"k":37.4},{"c":"L","r":"H","t":35,"g":15.8,"k":34.4},{"c":"L","r":"H","t":37,"g":17.2,"k":37.7},{"c":"L","r":"H","t":39,"g":15.4,"k":35.9},
{"c":"L","r":"H","t":41,"g":14.3,"k":33.7},{"c":"L","r":"H","t":43,"g":16.5,"k":37.7},{"c":"L","r":"H","t":45,"g":15.4,"k":36.6},{"c":"L","r":"H","t":47,"g":17.6,"k":39.2},{"c":"L","r":"H","t":49,"g":15.0,"k":37.4},{"c":"L","r":"H","t":51,"g":13.2,"k":39.9},{"c":"L","r":"H","t":53,"g":16.5,"k":38.1},{"c":"L","r":"H","t":55,"g":14.3,"k":39.6},{"c":"L","r":"H","t":57,"g":11.0,"k":39.2},{"c":"L","r":"H","t":59,"g":13.9,"k":35.2},
{"c":"L","r":"H","t":61,"g":15.8,"k":37.7},{"c":"L","r":"H","t":63,"g":13.2,"k":34.1},{"c":"L","r":"H","t":65,"g":16.8,"k":38.5},{"c":"L","r":"H","t":67,"g":12.1,"k":34.4},{"c":"L","r":"H","t":69,"g":13.6,"k":37.4},{"c":"L","r":"H","t":71,"g":17.2,"k":35.2},{"c":"L","r":"H","t":73,"g":19.4,"k":38.8},{"c":"L","r":"H","t":75,"g":15.4,"k":36.3},{"c":"L","r":"H","t":77,"g":12.8,"k":37.7},{"c":"L","r":"H","t":79,"g":13.6,"k":39.9},
{"c":"L","r":"H","t":81,"g":17.6,"k":37.4},{"c":"L","r":"H","t":83,"g":15.0,"k":39.6},{"c":"L","r":"H","t":85,"g":12.5,"k":35.9},{"c":"L","r":"H","t":87,"g":11.0,"k":38.1},{"c":"L","r":"H","t":89,"g":13.9,"k":34.8},{"c":"L","r":"H","t":91,"g":16.5,"k":38.8},{"c":"L","r":"H","t":93,"g":11.4,"k":34.4},{"c":"L","r":"H","t":95,"g":14.7,"k":38.5},{"c":"L","r":"H","t":97,"g":17.2,"k":36.6},{"c":"L","r":"H","t":99,"g":12.5,"k":39.2},
{"c":"L","r":"H","t":101,"g":15.8,"k":35.9},{"c":"L","r":"H","t":103,"g":17.9,"k":34.8},{"c":"L","r":"H","t":105,"g":14.3,"k":35.2},{"c":"L","r":"H","t":107,"g":16.8,"k":39.2},{"c":"L","r":"H","t":109,"g":12.8,"k":35.9},{"c":"L","r":"H","t":111,"g":15.4,"k":38.5},{"c":"L","r":"H","t":113,"g":17.6,"k":37.4},{"c":"L","r":"H","t":115,"g":13.6,"k":39.9},{"c":"L","r":"H","t":117,"g":12.5,"k":35.9},{"c":"L","r":"H","t":119,"g":15.4,"k":38.8},
{"c":"L","r":"H","t":121,"g":17.9,"k":34.8},{"c":"L","r":"H","t":123,"g":14.7,"k":38.1},{"c":"L","r":"H","t":125,"g":16.5,"k":39.9},{"c":"L","r":"H","t":127,"g":13.6,"k":35.9},{"c":"L","r":"H","t":129,"g":15.8,"k":37.7},{"c":"L","r":"H","t":131,"g":17.2,"k":35.2},{"c":"L","r":"H","t":133,"g":13.6,"k":39.2},{"c":"L","r":"H","t":135,"g":12.5,"k":37.4},{"c":"L","r":"H","t":137,"g":14.8,"k":36.0},{"c":"L","r":"H","t":139,"g":16.6,"k":39.0},
{"c":"L","r":"H","t":141,"g":13.4,"k":34.9},{"c":"L","r":"H","t":143,"g":15.9,"k":38.2},{"c":"L","r":"H","t":145,"g":12.9,"k":36.5},{"c":"L","r":"H","t":147,"g":16.3,"k":39.5},{"c":"L","r":"H","t":149,"g":14.2,"k":35.4},{"c":"L","r":"H","t":151,"g":17.0,"k":38.6},{"c":"L","r":"H","t":153,"g":13.8,"k":36.8},{"c":"L","r":"H","t":155,"g":15.2,"k":38.0}
]},
"transform":[{"fold":["g","k"],"as":["s","v"]}],
"facet":{
"column":{"field":"c","type":"nominal","sort":["H","I","L"],"title":null,"header":{"labelExpr":"datum.value=='H'?'High':datum.value=='I'?'Intermediate':'Low'","labelFontSize":28,"labelPadding":21}},
"row":{"field":"r","type":"nominal","sort":["L","I","H"],"title":"Frequency of warmer than average days (b)","header":{"labelExpr":"datum.value=='H'?'High':datum.value=='I'?'Intermediate':'Low'","labelAngle":90,"labelFontSize":28,"labelPadding":-11,"titleAngle":90,"titleFontSize":38.5,"titleFontWeight":"normal","titlePadding":-36}}
},
"spacing":{"row":24,"column":28},
"resolve":{"axis":{"x":"independent","y":"independent"}},
"spec":{
"width":205,"height":349,
"mark":{"type":"line","strokeWidth":2.2},
"encoding":{
"x":{"field":"v","type":"quantitative","scale":{"domain":[-1.5,43.6],"nice":false,"zero":false},"axis":{"orient":"top","values":[0,10,20,30,40],"title":"Temperature (°C)","titleFontSize":24,"labelFontSize":18,"tickSize":11,"labelPadding":14,"titlePadding":25,"labelFlush":false}},
"y":{"field":"t","type":"quantitative","scale":{"domain":[-4.6,155.5],"nice":false,"zero":false,"reverse":true},"axis":{"values":[0,50,100,150],"title":"Time (days)","titleAngle":90,"titleBaseline":"top","titleFontSize":24,"labelFontSize":18,"labelAngle":90,"labelAlign":"center","labelBaseline":"top","tickSize":11,"labelPadding":20,"titlePadding":20,"labelFlush":false}},
"color":{"field":"s","type":"nominal","scale":{"domain":["g","k"],"range":["#c0c0c0","#000000"]},"legend":null},
"order":{"field":"t","type":"quantitative"}
}
}
}
